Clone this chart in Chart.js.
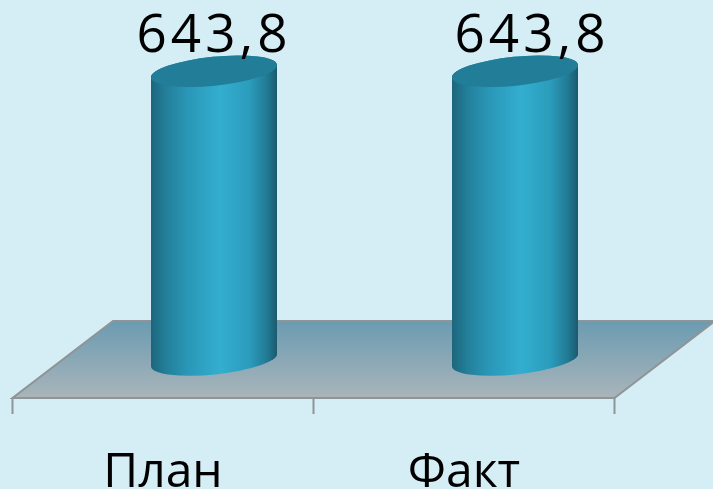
<!DOCTYPE html>
<html>
<head>
<meta charset="utf-8">
<style>
  html, body { margin: 0; padding: 0; background: #d5eef5; }
  canvas { display: block; }
</style>
<script src="https://cdn.jsdelivr.net/npm/chart.js@4"></script>
</head>
<body>
<canvas id="grafico" width="713" height="489"></canvas>
<script>
const categorias = ["План", "Факт"];
const valores = [643.8, 643.8];

const anchoBarra = 126;
const profundidad = 51;   // desplazamiento 3D entre el frente del piso y las barras
const fondoPiso = 100.5;
const inclinacion = -5.9 * Math.PI / 180;
const radioMenor = 14.5;
const corrimientoEtiqueta = [0, 17];

function gradienteBarra(ctx, centro) {
  const g = ctx.createLinearGradient(centro - anchoBarra / 2, 0, centro + anchoBarra / 2, 0);
  g.addColorStop(0, "#1c667c");
  g.addColorStop(0.12, "#237f9a");
  g.addColorStop(0.3, "#2a98b8");
  g.addColorStop(0.55, "#33aecf");
  g.addColorStop(0.78, "#2b9cbc");
  g.addColorStop(0.92, "#217a94");
  g.addColorStop(1, "#1a5a6e");
  return g;
}

function trazarCilindro(ctx, bar) {
  const a = anchoBarra / 2 / Math.cos(inclinacion);
  const dy = Math.tan(inclinacion) * anchoBarra / 2;
  ctx.moveTo(bar.x + anchoBarra / 2, bar.base + dy);
  ctx.ellipse(bar.x, bar.base, a, radioMenor, inclinacion, 0, Math.PI);
  ctx.lineTo(bar.x - anchoBarra / 2, bar.y - dy);
  ctx.ellipse(bar.x, bar.y, a, radioMenor, inclinacion, Math.PI, 2 * Math.PI);
  ctx.closePath();
}

const piso = {
  id: "piso",
  beforeDatasetsDraw(chart) {
    const { ctx, chartArea, scales } = chart;
    const y0 = scales.y.getPixelForValue(0);
    const frente = y0 + 38;
    const fondo = y0 - 39;
    const izq = chartArea.left - profundidad;
    const der = chartArea.right - profundidad;

    ctx.save();
    const g = ctx.createLinearGradient(0, fondo, 0, frente);
    g.addColorStop(0, "#6b9bb1");
    g.addColorStop(1, "#a9b5ba");
    ctx.fillStyle = g;
    ctx.strokeStyle = "#8f9497";
    ctx.lineWidth = 2;
    ctx.beginPath();
    ctx.moveTo(izq, frente);
    ctx.lineTo(der, frente);
    ctx.lineTo(der + fondoPiso, fondo);
    ctx.lineTo(izq + fondoPiso, fondo);
    ctx.closePath();
    ctx.fill();
    ctx.stroke();

    // marcas del eje
    ctx.beginPath();
    for (let i = 0; i <= categorias.length; i++) {
      const x = izq + (der - izq) * i / categorias.length;
      ctx.moveTo(x, frente);
      ctx.lineTo(x, frente + 16);
    }
    ctx.stroke();

    chart.getDatasetMeta(0).data.forEach((bar) => {
      ctx.fillStyle = gradienteBarra(ctx, bar.x);
      ctx.beginPath();
      trazarCilindro(ctx, bar);
      ctx.fill();
    });
    ctx.restore();
  },
  beforeDatasetDraw(chart) {
    // recorta las esquinas rectas de la barra
    const { ctx } = chart;
    ctx.save();
    ctx.beginPath();
    chart.getDatasetMeta(0).data.forEach((bar) => trazarCilindro(ctx, bar));
    ctx.clip();
  },
  afterDatasetDraw(chart) {
    chart.ctx.restore();
  },
  afterDatasetsDraw(chart) {
    const { ctx } = chart;
    ctx.save();
    chart.getDatasetMeta(0).data.forEach((bar, i) => {
      const a = anchoBarra / 2 / Math.cos(inclinacion);
      ctx.fillStyle = "#227d98";
      ctx.beginPath();
      ctx.ellipse(bar.x, bar.y, a, radioMenor, inclinacion, 0, 2 * Math.PI);
      ctx.fill();

      ctx.fillStyle = "#000";
      ctx.font = "53px 'Open Sans'";
      ctx.letterSpacing = "4px";
      ctx.textAlign = "center";
      ctx.textBaseline = "alphabetic";
      ctx.fillText(valores[i].toFixed(1).replace(".", ","), bar.x + corrimientoEtiqueta[i], bar.y - 19);
    });
    ctx.restore();
  }
};

new Chart(document.getElementById("grafico"), {
  type: "bar",
  data: {
    labels: categorias,
    datasets: [
      {
        data: valores,
        barThickness: anchoBarra,
        backgroundColor(c) {
          const x = c.chart.scales.x;
          if (!c.chart.chartArea || !x) return "#2a98b8";
          return gradienteBarra(c.chart.ctx, x.getPixelForValue(c.dataIndex));
        },
      },
    ],
  },
  plugins: [piso],
  options: {
    responsive: false,
    animation: false,
    layout: { padding: { left: 63.5, right: 47.5, top: 46, bottom: 0 } },
    plugins: { legend: { display: false }, tooltip: { enabled: false } },
    scales: {
      x: {
        grid: { display: false },
        border: { display: false },
        afterFit(scale) { scale.height = 129; },
        ticks: {
          color: "#000",
          font: { family: "'Open Sans'", size: 48 },
          padding: 77,
          labelOffset: -profundidad,
          maxRotation: 0,
          autoSkip: false,
        },
      },
      y: {
        display: false,
        min: 0,
        max: 700,
      },
    },
  },
});
</script>
</body>
</html>
